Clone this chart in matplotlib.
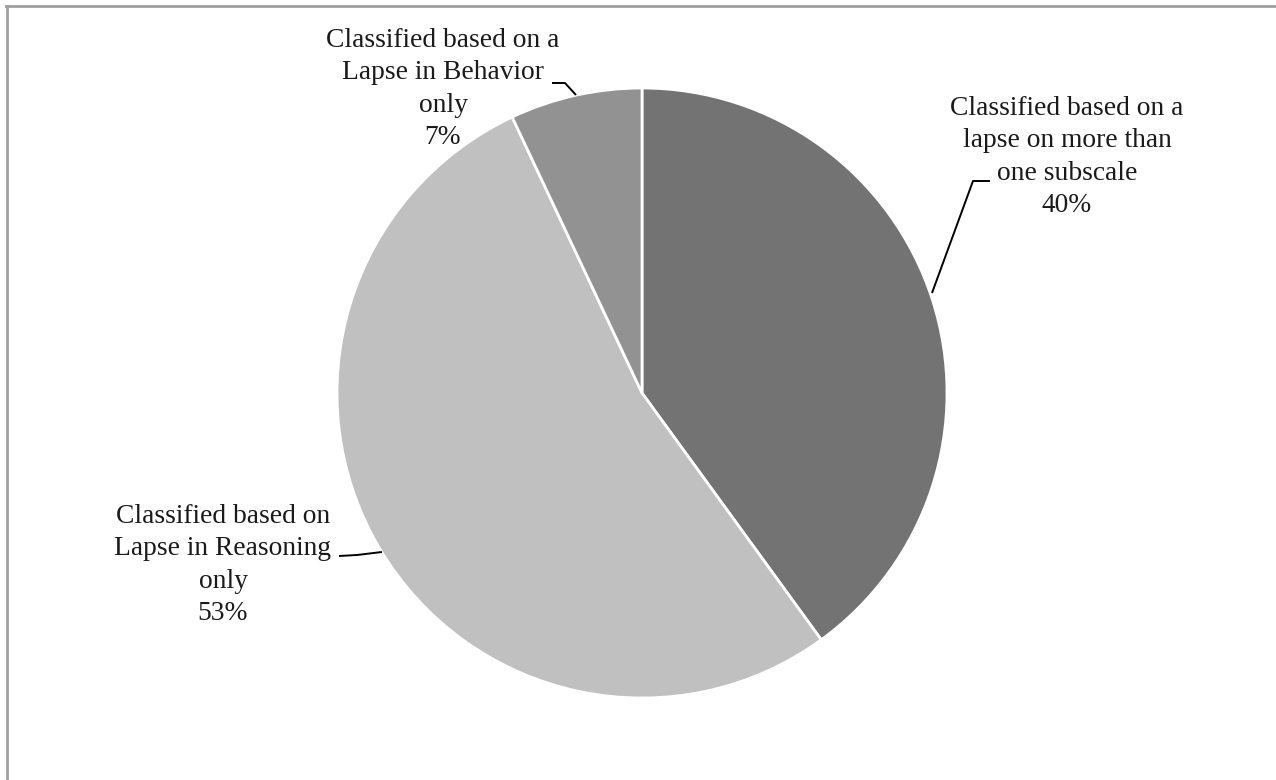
import matplotlib
matplotlib.use("Agg")
import matplotlib.pyplot as plt
from matplotlib.lines import Line2D

categories = [
    "Classified based on a\nlapse on more than\none subscale",
    "Classified based on\nLapse in Reasoning\nonly",
    "Classified based on a\nLapse in Behavior\nonly",
]
values = [40, 53, 7]
colors = ["#737373", "#c0c0c0", "#929292"]

W, H = 1276, 780
fig = plt.figure(figsize=(W / 100, H / 100), dpi=100)
ax = fig.add_axes([0, 0, 1, 1])

def Y(y):
    return H - y

cx, cy, r = 642, 393, 305
ax.pie(values, colors=colors, startangle=90, counterclock=False,
       center=(cx, Y(cy)), radius=r,
       wedgeprops=dict(edgecolor="white", linewidth=2))

ax.set_xlim(0, W)
ax.set_ylim(0, H)
ax.set_aspect("auto")
ax.axis("off")

font = dict(family="Liberation Serif", size=19.8, color="#1a1a1a")
label_pos = [(1067, 157), (223, 565), (443, 89)]
leaders = [
    [(990, 181), (973, 181), (932, 293)],
    [(339, 556), (357, 555), (382, 552)],
    [(552, 83), (565, 83), (576, 95)],
]
for cat, v, (tx, ty), pts in zip(categories, values, label_pos, leaders):
    ax.text(tx, Y(ty), f"{cat}\n{v}%", ha="center", va="center",
            linespacing=1.38, **font)
    xs = [p[0] for p in pts]
    ys = [Y(p[1]) for p in pts]
    ax.plot(xs, ys, color="black", lw=1.4, solid_capstyle="butt")

# outer border (top and left visible)
fig.add_artist(Line2D([6 / W, 1], [1 - 5.5 / H, 1 - 5.5 / H],
                      color="#a0a0a0", lw=2, transform=fig.transFigure))
fig.add_artist(Line2D([6.5 / W, 6.5 / W], [0, 1 - 5.5 / H],
                      color="#a0a0a0", lw=2, transform=fig.transFigure))

fig.savefig("out.png", dpi=100, facecolor="white")
